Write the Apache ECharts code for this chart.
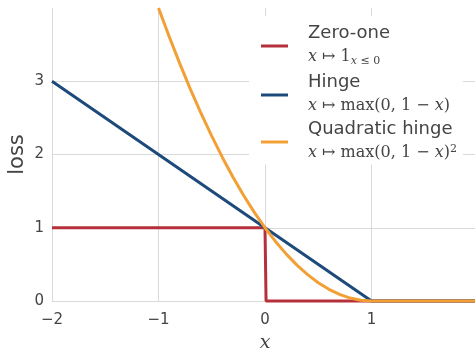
<!DOCTYPE html>
<html>
<head>
<meta charset="utf-8">
<script src="https://cdn.jsdelivr.net/npm/echarts@6/dist/echarts.min.js"></script>
<style>
html,body{margin:0;padding:0;background:#fff;}
#c{width:475px;height:352px;}
</style>
</head>
<body>
<div id="c"></div>
<script>
// Data
const xTicks = [-2, -1, 0, 1];
const yTicks = [0, 1, 2, 3];
const zeroOneX = [-2, 0, 0.01, 2];
const zeroOneY = [1, 1, 0, 0];
const hingeX = [-2, 1, 2];
const hingeY = [3, 0, 0];
const quadX = [-1, -0.9, -0.8, -0.7, -0.6, -0.5, -0.4, -0.3, -0.2, -0.1, 0, 0.1, 0.2, 0.3, 0.4, 0.5, 0.6, 0.7, 0.8, 0.9, 1, 2];
const quadY = [4, 3.61, 3.24, 2.89, 2.56, 2.25, 1.96, 1.69, 1.44, 1.21, 1, 0.81, 0.64, 0.49, 0.36, 0.25, 0.16, 0.09, 0.04, 0.01, 0, 0];
const names = ['Zero-one', 'Hinge', 'Quadratic hinge'];
const colors = ['#b5303a', '#1c4a7a', '#f2a035'];

const pairs = (xs, ys) => xs.map((x, i) => [x, ys[i]]);
const chart = echarts.init(document.getElementById('c'), null, {renderer: 'canvas'});

const MF = 'DejaVu Serif';
const MLH = 26;
const mathRich = {
  t: {fontFamily: 'DejaVu Sans', fontSize: 18, color: '#444', lineHeight: 22},
  i: {fontFamily: MF, fontStyle: 'italic', fontSize: 16, color: '#444', lineHeight: MLH},
  r: {fontFamily: MF, fontSize: 16, color: '#444', lineHeight: MLH},
  si: {fontFamily: MF, fontStyle: 'italic', fontSize: 11, color: '#444', lineHeight: MLH, padding: [9,0,0,0]},
  sr: {fontFamily: MF, fontSize: 11, color: '#444', lineHeight: MLH, padding: [9,0,0,0]},
  sup: {fontFamily: MF, fontSize: 11, color: '#444', lineHeight: MLH, padding: [0,0,8,0]},
  p: {width: 15}
};
const legendText = {
  'Zero-one': '{p|}{t|Zero-one}\n{p|}{i|x}{r| ↦ 1}{si|x}{sr| ≤ 0}',
  'Hinge': '{p|}{t|Hinge}\n{p|}{i|x}{r| ↦ max(0, 1 − }{i|x}{r|)}',
  'Quadratic hinge': '{p|}{t|Quadratic hinge}\n{p|}{i|x}{r| ↦ max(0, 1 − }{i|x}{r|)}{sup|2}'
};

chart.setOption({
  animation: false,
  backgroundColor: '#fff',
  grid: {left: 52, right: -3, top: 8, bottom: 51, outerBoundsMode: 'none', containLabel: false},
  legend: {
    data: names,
    orient: 'vertical',
    left: 249,
    top: 16,
    icon: 'rect',
    itemWidth: 27,
    itemHeight: 3,
    itemGap: 6,
    backgroundColor: '#fff',
    padding: [8, 6, 2, 12],
    formatter: n => legendText[n],
    textStyle: {rich: mathRich}
  },
  xAxis: {
    type: 'value', min: -2, max: 2, interval: 1,
    name: 'x', nameLocation: 'middle', nameGap: 33,
    nameTextStyle: {fontFamily: 'DejaVu Serif', fontStyle: 'italic', fontSize: 19, color: '#444'},
    axisLine: {show: false}, axisTick: {show: false},
    axisLabel: {
      margin: 12, fontFamily: 'DejaVu Sans', fontSize: 15, color: '#444',
      formatter: v => xTicks.includes(v) ? String(v).replace('-', '\u2212') : ''
    },
    splitLine: {show: true, showMaxLine: false, lineStyle: {color: '#d9d9d9', width: 1}}
  },
  yAxis: {
    type: 'value', min: 0, max: 4, interval: 1,
    name: 'loss', nameLocation: 'middle', nameGap: 24, nameMoveOverlap: false,
    nameTextStyle: {fontFamily: 'DejaVu Sans', fontSize: 21, color: '#444'},
    axisLine: {show: false}, axisTick: {show: false},
    axisLabel: {
      margin: 8, fontFamily: 'DejaVu Sans', fontSize: 15, color: '#444',
      formatter: v => yTicks.includes(v) ? String(v) : ''
    },
    splitLine: {show: true, showMaxLine: false, lineStyle: {color: '#d9d9d9', width: 1}}
  },
  series: [
    {name: names[0], type: 'line', data: pairs(zeroOneX, zeroOneY), showSymbol: false, clip: false,
     lineStyle: {color: colors[0], width: 3}, itemStyle: {color: colors[0]}, z: 2},
    {name: names[1], type: 'line', data: pairs(hingeX, hingeY), showSymbol: false, clip: false,
     lineStyle: {color: colors[1], width: 3}, itemStyle: {color: colors[1]}, z: 3},
    {name: names[2], type: 'line', data: pairs(quadX, quadY), showSymbol: false, clip: false,
     lineStyle: {color: colors[2], width: 3}, itemStyle: {color: colors[2]}, z: 4}
  ]
});
</script>
</body>
</html>
